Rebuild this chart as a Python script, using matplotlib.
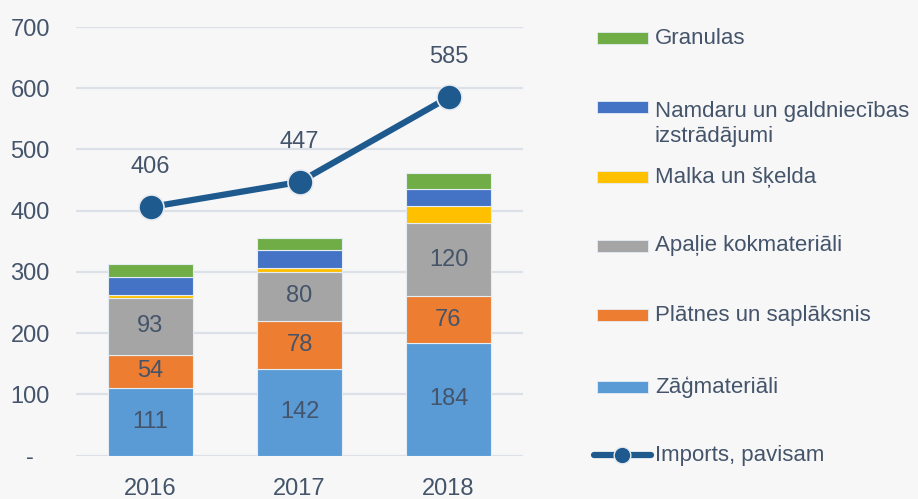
import matplotlib
matplotlib.use("Agg")
import matplotlib.pyplot as plt
from matplotlib.patches import Rectangle
from matplotlib.lines import Line2D
import numpy as np

plt.rcParams['font.family'] = ['Liberation Sans', 'DejaVu Sans']

years = ["2016", "2017", "2018"]
zagmateriali = [111, 142, 184]
platnes = [54, 78, 76]
apalie = [93, 80, 120]
malka = [4, 6, 27]
namdaru = [30, 30, 28]
granulas = [21, 19, 27]
imports_total = [406, 447, 585]
yticks = [0, 100, 200, 300, 400, 500, 600, 700]
ytick_labels = ["-", "100", "200", "300", "400", "500", "600", "700"]

series = [
    ("Zāģmateriāli", zagmateriali, "#5B9BD5", True),
    ("Plātnes un saplāksnis", platnes, "#ED7D31", True),
    ("Apaļie kokmateriāli", apalie, "#A5A5A5", True),
    ("Malka un šķelda", malka, "#FFC000", False),
    ("Namdaru un galdniecības\nizstrādājumi", namdaru, "#4472C4", False),
    ("Granulas", granulas, "#70AD47", False),
]
line_label = "Imports, pavisam"
line_color = "#1F5A8E"
text_color = "#44546A"
bg = "#F7F7F8"

W, H = 918, 499
fig = plt.figure(figsize=(W / 100, H / 100), dpi=100, facecolor=bg)
ax_left, ax_right, ax_top, ax_bottom = 76, 523, 27, 455.7
ax = fig.add_axes([ax_left / W, 1 - ax_bottom / H, (ax_right - ax_left) / W, (ax_bottom - ax_top) / H])
ax.set_facecolor(bg)

x = np.arange(len(years))
bottom = np.zeros(len(years))
for name, vals, col, lab in series:
    vals = np.array(vals, dtype=float)
    ax.bar(x, vals, 0.565, bottom=bottom, color=col, edgecolor="#E4ECF4", linewidth=0.8, zorder=3)
    if lab:
        for xi, b, v in zip(x, bottom, vals):
            ax.text(xi, b + v / 2, f"{int(v)}", ha="center", va="center", fontsize=17, color=text_color, zorder=4)
    bottom += vals

ax.plot(x, imports_total, color=line_color, lw=4.5, marker="o", markersize=18,
        markerfacecolor=line_color, markeredgecolor="#E6EAF0", markeredgewidth=1.2, zorder=5)
for xi, v in zip(x, imports_total):
    ax.annotate(f"{v}", (xi, v), xytext=(0, 29), textcoords="offset points",
                ha="center", va="center", fontsize=17, color=text_color, zorder=6)

ax.set_xlim(-0.5, 2.5)
ax.set_ylim(0, 700)
ax.set_yticks(yticks)
ax.set_yticklabels(ytick_labels)
ax.set_xticks(x)
ax.set_xticklabels(years)
ax.tick_params(axis="y", length=0, pad=33, labelsize=17, labelcolor=text_color)
ax.tick_params(axis="x", length=0, pad=16, labelsize=17, labelcolor=text_color)
for t in ax.get_yticklabels():
    t.set_horizontalalignment("center")
ax.grid(axis="y", color="#DCE1E8", lw=1.6, zorder=0)
for s in ax.spines.values():
    s.set_visible(False)

# legend (manual, figure coordinates)
legend_rows = [
    ("Granulas", "#70AD47", 38, 38),
    ("Namdaru un galdniecības\nizstrādājumi", "#4472C4", 107, 124),
    ("Malka un šķelda", "#FFC000", 177, 177),
    ("Apaļie kokmateriāli", "#A5A5A5", 246, 246),
    ("Plātnes un saplāksnis", "#ED7D31", 315, 315),
    ("Zāģmateriāli", "#5B9BD5", 387, 387),
]
for name, col, yc, ytxt in legend_rows:
    fig.patches.append(Rectangle((597 / W, 1 - (yc + 6) / H), 51 / W, 12 / H,
                                 transform=fig.transFigure, facecolor=col, edgecolor="#E4ECF4", lw=0.6))
    fig.text(655 / W, 1 - ytxt / H, name, ha="left", va="center", fontsize=16,
             color=text_color, linespacing=1.2)
yl = 455
fig.lines.append(Line2D([594 / W, 651 / W], [1 - yl / H, 1 - yl / H], transform=fig.transFigure,
                        color=line_color, lw=4.5, solid_capstyle="round"))
fig.lines.append(Line2D([622 / W], [1 - yl / H], transform=fig.transFigure, marker="o",
                        markersize=12, color=line_color, markeredgecolor="#E6EAF0", markeredgewidth=1))
fig.text(655 / W, 1 - yl / H, line_label, ha="left", va="center", fontsize=16, color=text_color)

fig.savefig("out.png", dpi=100, facecolor=bg)
